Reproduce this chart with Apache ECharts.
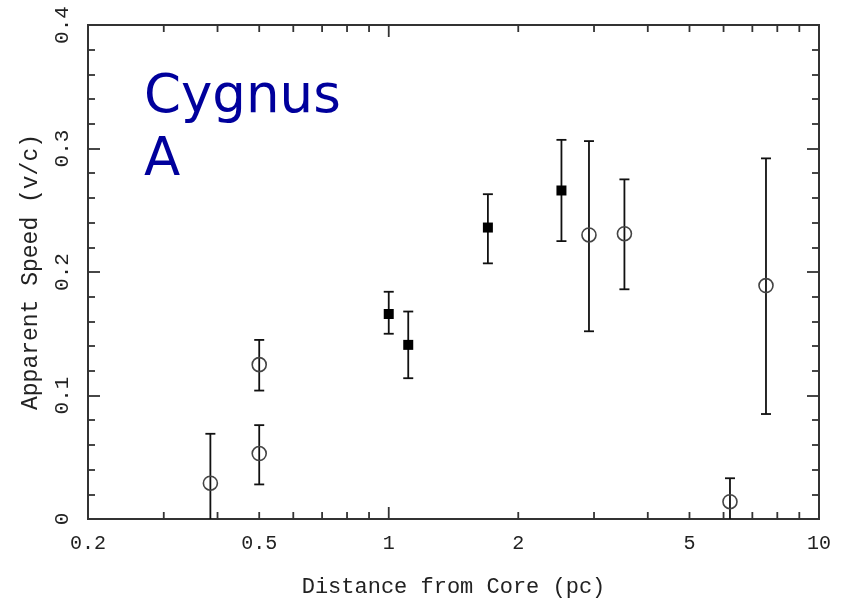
<!DOCTYPE html>
<html>
<head>
<meta charset="utf-8">
<title>Cygnus A – apparent speed vs distance</title>
<script src="https://cdn.jsdelivr.net/npm/echarts@6/dist/echarts.min.js"></script>
<style>
  html, body { margin: 0; padding: 0; background: #fff; }
  #chart { width: 846px; height: 603px; }
</style>
</head>
<body>
<div id="chart"></div>
<script>
// Components moving at measured speeds (filled squares)
const solidDistance = [1.00, 1.11, 1.70, 2.52];
const solidSpeed    = [0.166, 0.141, 0.236, 0.266];
const solidLow      = [0.150, 0.114, 0.207, 0.225];
const solidHigh     = [0.184, 0.168, 0.263, 0.307];

// Less certain components (open circles)
const openDistance = [0.385, 0.50, 0.50, 2.92, 3.53, 6.21, 7.53];
const openSpeed    = [0.029, 0.053, 0.125, 0.230, 0.231, 0.014, 0.189];
const openLow      = [-0.011, 0.028, 0.104, 0.152, 0.186, -0.005, 0.085];
const openHigh     = [0.069, 0.076, 0.145, 0.306, 0.275, 0.033, 0.292];

// Log-axis tick marks and labels
const xLabelValues = [0.2, 0.5, 1, 2, 5, 10];
const xMajorTicks  = [1];
const xMinorTicks  = [0.3, 0.4, 0.5, 0.6, 0.7, 0.8, 0.9, 2, 3, 4, 5, 6, 7, 8, 9];

const Y_MIN = 0, Y_MAX = 0.4;
const AXIS_COLOR = '#333';
const TEXT_COLOR = '#222';
const MONO = "'Liberation Mono', 'DejaVu Sans Mono', monospace";

function zip(xs, ys, lo, hi) {
  return xs.map((x, i) => [x, ys[i], lo[i], hi[i]]);
}

const solidPoints = zip(solidDistance, solidSpeed, solidLow, solidHigh);
const openPoints  = zip(openDistance, openSpeed, openLow, openHigh);

// Vertical error bar with end caps
function renderErrorBar(params, api) {
  const x = api.value(0);
  const top = api.coord([x, api.value(3)]);
  const bot = api.coord([x, api.value(2)]);
  const cap = 5;
  const style = { stroke: '#111', lineWidth: 1.8 };
  return {
    type: 'group',
    children: [
      { type: 'line', shape: { x1: top[0], y1: top[1], x2: bot[0], y2: bot[1] }, style },
      { type: 'line', shape: { x1: top[0] - cap, y1: top[1], x2: top[0] + cap, y2: top[1] }, style },
      { type: 'line', shape: { x1: bot[0] - cap, y1: bot[1], x2: bot[0] + cap, y2: bot[1] }, style }
    ]
  };
}

// Tick marks on bottom and top edges of the frame
function tickRenderer(len) {
  return function (params, api) {
    const v = api.value(0);
    const b = api.coord([v, Y_MIN]);
    const t = api.coord([v, Y_MAX]);
    const style = { stroke: AXIS_COLOR, lineWidth: 1.8 };
    return {
      type: 'group',
      children: [
        { type: 'line', shape: { x1: b[0], y1: b[1], x2: b[0], y2: b[1] - len }, style },
        { type: 'line', shape: { x1: t[0], y1: t[1], x2: t[0], y2: t[1] + len }, style }
      ]
    };
  };
}

function renderXLabel(params, api) {
  const v = api.value(0);
  const p = api.coord([v, Y_MIN]);
  return {
    type: 'text',
    x: p[0], y: p[1] + 15,
    style: {
      text: String(v),
      fill: TEXT_COLOR,
      font: '20px ' + MONO,
      align: 'center',
      verticalAlign: 'top'
    }
  };
}

const yAxisCommon = {
  type: 'value',
  min: Y_MIN,
  max: Y_MAX,
  interval: 0.1,
  axisLine: { show: false },
  splitLine: { show: false },
  axisTick: { show: true, inside: true, length: 12, lineStyle: { color: AXIS_COLOR, width: 1.8 } },
  minorTick: { show: true, splitNumber: 5, length: 7, lineStyle: { color: AXIS_COLOR, width: 1.8 } }
};

const chart = echarts.init(document.getElementById('chart'), null, { renderer: 'canvas' });

chart.setOption({
  animation: false,
  backgroundColor: '#fff',
  title: {
    text: 'Cygnus\nA',
    left: 139,
    top: 62,
    textStyle: {
      color: '#00009c',
      fontFamily: "'DejaVu Sans', sans-serif",
      fontWeight: 'normal',
      fontSize: 53,
      lineHeight: 63
    }
  },
  grid: {
    left: 88, right: 27, top: 25, bottom: 84,
    show: true,
    borderColor: AXIS_COLOR,
    borderWidth: 2,
    backgroundColor: 'transparent'
  },
  xAxis: {
    type: 'log',
    logBase: 10,
    min: 0.2,
    max: 10,
    axisLine: { show: false },
    axisTick: { show: false },
    axisLabel: { show: false },
    splitLine: { show: false },
    minorTick: { show: false },
    name: 'Distance from Core (pc)',
    nameLocation: 'middle',
    nameGap: 57,
    nameTextStyle: { color: TEXT_COLOR, fontFamily: MONO, fontSize: 22 }
  },
  yAxis: [
    Object.assign({}, yAxisCommon, {
      position: 'left',
      axisLabel: {
        show: true,
        rotate: 90,
        margin: 15,
        color: TEXT_COLOR,
        fontFamily: MONO,
        fontSize: 21,
        formatter: v => String(+v.toFixed(1))
      },
      name: 'Apparent Speed (v/c)',
      nameLocation: 'middle',
      nameRotate: 90,
      nameGap: 46,
      nameTextStyle: { color: TEXT_COLOR, fontFamily: MONO, fontSize: 23 }
    }),
    Object.assign({}, yAxisCommon, {
      position: 'right',
      axisLabel: { show: false }
    })
  ],
  series: [
    {
      name: 'x minor ticks',
      type: 'custom',
      silent: true,
      renderItem: tickRenderer(7),
      data: xMinorTicks.map(v => [v, Y_MIN]),
      z: 5
    },
    {
      name: 'x major ticks',
      type: 'custom',
      silent: true,
      renderItem: tickRenderer(12),
      data: xMajorTicks.map(v => [v, Y_MIN]),
      z: 5
    },
    {
      name: 'x labels',
      type: 'custom',
      silent: true,
      renderItem: renderXLabel,
      data: xLabelValues.map(v => [v, Y_MIN]),
      z: 5
    },
    {
      name: 'error bars (solid)',
      type: 'custom',
      clip: true,
      renderItem: renderErrorBar,
      data: solidPoints,
      encode: { x: 0, y: [1, 2, 3] },
      z: 2
    },
    {
      name: 'error bars (open)',
      type: 'custom',
      clip: true,
      renderItem: renderErrorBar,
      data: openPoints,
      encode: { x: 0, y: [1, 2, 3] },
      z: 2
    },
    {
      name: 'solid',
      type: 'scatter',
      symbol: 'rect',
      symbolSize: 10,
      itemStyle: { color: '#000', opacity: 1 },
      data: solidPoints.map(p => [p[0], p[1]]),
      z: 4
    },
    {
      name: 'open',
      type: 'scatter',
      symbol: 'circle',
      symbolSize: 14,
      itemStyle: { color: 'rgba(0,0,0,0)', borderColor: '#444', borderWidth: 1.6, opacity: 1 },
      data: openPoints.map(p => [p[0], p[1]]),
      z: 4
    }
  ]
});
</script>
</body>
</html>
